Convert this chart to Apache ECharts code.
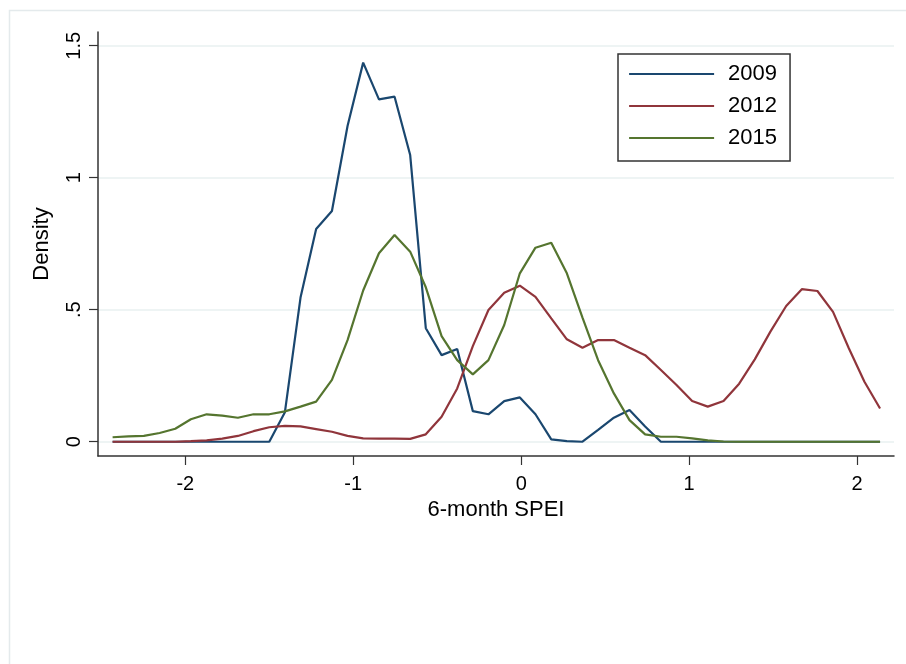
<!DOCTYPE html>
<html>
<head>
<meta charset="utf-8">
<title>SPEI density</title>
<script src="https://cdn.jsdelivr.net/npm/echarts@6/dist/echarts.min.js"></script>
<style>
  html, body { margin: 0; padding: 0; background: #fff; }
  #densityChart { width: 906px; height: 664px; }
</style>
</head>
<body>
<div id="densityChart"></div>
<script>
// kdensity evaluation points (6-month SPEI)
var spei = [
  -2.433, -2.340, -2.247, -2.153, -2.060, -1.967, -1.873, -1.780, -1.687, -1.594,
  -1.500, -1.407, -1.314, -1.221, -1.127, -1.034, -0.941, -0.847, -0.754, -0.661,
  -0.568, -0.474, -0.381, -0.288, -0.195, -0.101, -0.008, 0.085, 0.179, 0.272,
  0.365, 0.458, 0.552, 0.645, 0.738, 0.832, 0.925, 1.018, 1.111, 1.205,
  1.298, 1.391, 1.484, 1.578, 1.671, 1.764, 1.857, 1.951, 2.044, 2.137
];

var years = ['2009', '2012', '2015'];

var dens2009 = [
  0, 0, 0, 0, 0, 0, 0, 0, 0, 0,
  0, 0.112, 0.546, 0.806, 0.874, 1.196, 1.436, 1.297, 1.307, 1.086,
  0.430, 0.328, 0.351, 0.116, 0.104, 0.154, 0.168, 0.104, 0.009, 0.002,
  0, 0.045, 0.091, 0.120, 0.058, 0, 0, 0, 0, 0,
  0, 0, 0, 0, 0, 0, 0, 0, 0, 0
];

var dens2012 = [
  0, 0, 0, 0, 0, 0.002, 0.005, 0.012, 0.022, 0.040,
  0.055, 0.060, 0.058, 0.048, 0.038, 0.022, 0.013, 0.012, 0.012, 0.011,
  0.028, 0.095, 0.202, 0.362, 0.499, 0.564, 0.591, 0.549, 0.467, 0.388,
  0.356, 0.385, 0.385, 0.356, 0.328, 0.272, 0.215, 0.154, 0.133, 0.154,
  0.220, 0.312, 0.417, 0.514, 0.578, 0.571, 0.492, 0.354, 0.227, 0.126
];

var dens2015 = [
  0.017, 0.020, 0.022, 0.033, 0.049, 0.085, 0.104, 0.099, 0.091, 0.104,
  0.104, 0.115, 0.133, 0.152, 0.234, 0.385, 0.573, 0.714, 0.783, 0.720,
  0.585, 0.400, 0.309, 0.255, 0.309, 0.442, 0.638, 0.735, 0.754, 0.638,
  0.470, 0.309, 0.183, 0.082, 0.028, 0.019, 0.019, 0.013, 0.005, 0.001,
  0, 0, 0, 0, 0, 0, 0, 0, 0, 0
];

var xTicks = [-2, -1, 0, 1, 2];
var yTicks = [0, 0.5, 1, 1.5];

var colors = ['#1a476f', '#90353b', '#55752f'];
var fontFam = '"Liberation Sans", Arial, sans-serif';

function pairs(ys) {
  return spei.map(function (x, i) { return [x, ys[i]]; });
}

var myChart = echarts.init(document.getElementById('densityChart'));

var option = {
  backgroundColor: '#ffffff',
  animation: false,
  textStyle: { fontFamily: fontFam },
  color: colors,
  graphic: [
    {
      // light graph-region border (only left / top visible)
      type: 'rect',
      left: 7,
      top: 8,
      shape: { width: 1000, height: 1000 },
      style: { fill: 'none', stroke: '#e4eaec', lineWidth: 1.5 },
      silent: true
    }
  ],
  grid: {
    left: 98,
    right: 12,
    top: 32,
    bottom: 208
  },
  legend: {
    data: years,
    orient: 'vertical',
    left: 618,
    top: 54,
    padding: [9, 13, 12, 10],
    itemWidth: 85,
    itemHeight: 20,
    itemGap: 10,
    borderColor: '#333',
    borderWidth: 1.5,
    backgroundColor: '#fff',
    itemStyle: { opacity: 0 },
    lineStyle: { width: 2.2 },
    textStyle: {
      fontSize: 22,
      lineHeight: 20,
      color: '#000',
      fontFamily: fontFam,
      padding: [0, 0, 0, 9]
    }
  },
  xAxis: {
    type: 'value',
    min: -2.52,
    max: 2.22,
    name: '6-month SPEI',
    nameLocation: 'middle',
    nameGap: 38,
    nameTextStyle: { fontSize: 22, color: '#000', fontFamily: fontFam },
    axisLine: { show: true, onZero: false, lineStyle: { color: '#333', width: 1.5 } },
    axisTick: { show: true, length: 9, customValues: xTicks, lineStyle: { color: '#333', width: 1.2 } },
    axisLabel: { customValues: xTicks, fontSize: 20, color: '#000', margin: 18 },
    splitLine: { show: false }
  },
  yAxis: {
    type: 'value',
    min: -0.054,
    max: 1.552,
    name: 'Density',
    nameLocation: 'middle',
    nameGap: 45,
    nameTextStyle: { fontSize: 22, color: '#000', fontFamily: fontFam },
    axisLine: { show: true, onZero: false, lineStyle: { color: '#333', width: 1.5 } },
    axisTick: { show: true, length: 9, customValues: yTicks, lineStyle: { color: '#333', width: 1.2 } },
    axisLabel: {
      customValues: yTicks,
      rotate: 90,
      fontSize: 20,
      color: '#000',
      margin: 14,
      formatter: function (v) { return v === 0.5 ? '.5' : String(v); }
    },
    splitLine: { show: true, lineStyle: { color: '#e8f0f1', width: 1.5 } }
  },
  series: [
    {
      name: years[0],
      type: 'line',
      data: pairs(dens2009),
      symbol: 'none',
      lineStyle: { width: 2.2, color: colors[0] }
    },
    {
      name: years[1],
      type: 'line',
      data: pairs(dens2012),
      symbol: 'none',
      lineStyle: { width: 2.2, color: colors[1] }
    },
    {
      name: years[2],
      type: 'line',
      data: pairs(dens2015),
      symbol: 'none',
      lineStyle: { width: 2.2, color: colors[2] }
    }
  ]
};

myChart.setOption(option);

window.addEventListener('resize', function () {
  myChart.resize();
});
</script>
</body>
</html>
